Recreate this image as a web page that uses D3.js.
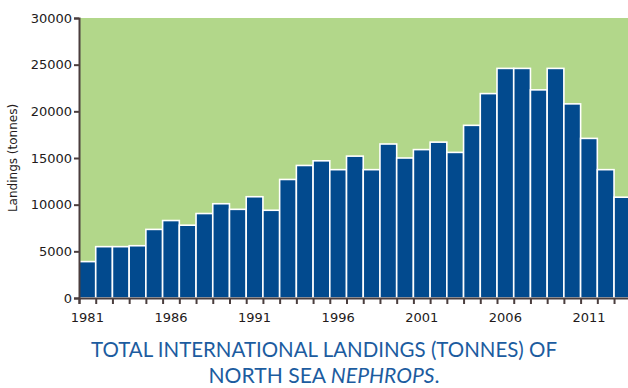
<!DOCTYPE html>
<html>
<head>
<meta charset="utf-8">
<script src="https://cdn.jsdelivr.net/npm/d3@7/dist/d3.min.js"></script>
<style>
  html, body { margin: 0; padding: 0; background: #fff; }
  svg { display: block; }
</style>
</head>
<body>
<svg id="chart" width="628" height="388"></svg>
<script>
// Total international landings of North Sea Nephrops, tonnes per year
const years = d3.range(1981, 2014);
const landings = [
  3900, 5500, 5500, 5600, 7350, 8300, 7800, 9050, 10100, 9500,
  10850, 9400, 12700, 14200, 14700, 13750, 15200, 13750, 16500, 15000,
  15900, 16700, 15600, 18500, 21900, 24600, 24600, 22300, 24600, 20800,
  17100, 13750, 10800
];
const yTicks = [0, 5000, 10000, 15000, 20000, 25000, 30000];
const labelYears = [1981, 1986, 1991, 1996, 2001, 2006, 2011];

const svg = d3.select("#chart");
const plotLeft = 79, plotTop = 18, plotBottom = 298;
const step = 16.72;
const plotRight = plotLeft + step * years.length;
const axisColor = "#4b3e3e";

const x = d3.scaleBand().domain(years).range([plotLeft, plotRight]).padding(0);
const xEdge = d3.scaleLinear().domain([1981, 2014]).range([plotLeft, plotRight]);
const y = d3.scaleLinear().domain([0, 30000]).range([plotBottom, plotTop]);

// plot background
svg.append("rect")
  .attr("x", plotLeft).attr("y", plotTop)
  .attr("width", plotRight - plotLeft).attr("height", plotBottom - plotTop)
  .attr("fill", "#b2d78a");

// bars
svg.append("g").selectAll("rect")
  .data(years)
  .join("rect")
  .attr("x", d => x(d))
  .attr("y", (d, i) => y(landings[i]))
  .attr("width", x.bandwidth())
  .attr("height", (d, i) => plotBottom - y(landings[i]))
  .attr("fill", "#024a8e")
  .attr("stroke", "#ffffff")
  .attr("stroke-width", 1.6);

// y axis
const yAxis = svg.append("g")
  .attr("transform", `translate(${plotLeft},0)`)
  .call(d3.axisLeft(y).tickValues(yTicks).tickSize(5).tickPadding(2).tickFormat(d3.format("d")));
yAxis.select(".domain").attr("stroke", axisColor).attr("stroke-width", 2);
yAxis.selectAll(".tick line").attr("stroke", axisColor).attr("stroke-width", 2);
yAxis.selectAll(".tick text")
  .attr("fill", "#231a1a")
  .style("font-family", "'DejaVu Sans', Verdana, sans-serif")
  .style("font-size", "13px");

// x axis: tick marks on every year boundary
const xAxis = svg.append("g")
  .attr("transform", `translate(0,${plotBottom})`)
  .call(d3.axisBottom(xEdge).tickValues(d3.range(1981, 2014)).tickSize(6).tickFormat(""));
xAxis.select(".domain").attr("stroke", axisColor).attr("stroke-width", 2);
xAxis.selectAll(".tick line").attr("stroke", axisColor).attr("stroke-width", 2);

// year labels centred on their bars
svg.append("g").selectAll("text")
  .data(labelYears)
  .join("text")
  .attr("x", d => x(d) + x.bandwidth() / 2)
  .attr("y", 322)
  .attr("text-anchor", "middle")
  .attr("fill", "#231a1a")
  .style("font-family", "'DejaVu Sans', Verdana, sans-serif")
  .style("font-size", "13px")
  .text(d => d);

// y axis title
svg.append("text")
  .attr("transform", "translate(17,158) rotate(-90)")
  .attr("text-anchor", "middle")
  .attr("fill", "#231a1a")
  .style("font-family", "'DejaVu Sans', Verdana, sans-serif")
  .style("font-size", "12px")
  .text("Landings (tonnes)");

// caption
const cap = svg.append("g")
  .attr("fill", "#1c5c9f")
  .style("font-family", "Lato, sans-serif")
  .style("font-size", "21px");
cap.append("text")
  .attr("x", 324).attr("y", 357)
  .attr("text-anchor", "middle")
  .attr("textLength", 466).attr("lengthAdjust", "spacingAndGlyphs")
  .text("TOTAL INTERNATIONAL LANDINGS (TONNES) OF");
const l2 = cap.append("text")
  .attr("x", 324).attr("y", 383)
  .attr("text-anchor", "middle")
  .attr("textLength", 231).attr("lengthAdjust", "spacingAndGlyphs");
l2.append("tspan").text("NORTH SEA ");
l2.append("tspan").attr("font-style", "italic").text("NEPHROPS");
l2.append("tspan").text(".");
</script>
</body>
</html>
